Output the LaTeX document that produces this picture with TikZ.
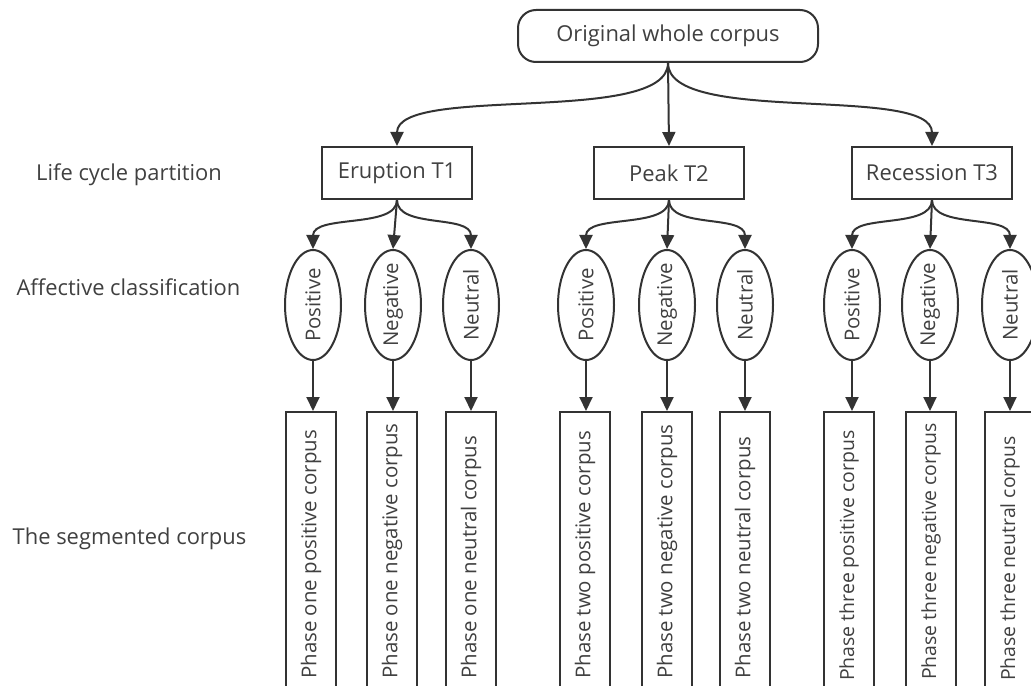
\documentclass[tikz,border=0pt]{standalone}
\usepackage{fontspec}
\setmainfont{Open Sans}
\usetikzlibrary{arrows.meta,shapes.geometric}
\definecolor{ink}{HTML}{333333}
\definecolor{txt}{HTML}{404040}

\begin{document}
\begin{tikzpicture}[x=1bp,y=-1bp,
  every node/.style={font=\fontsize{22}{26}\selectfont, text=txt},
  conn/.style={draw=ink, line width=2bp, -{Triangle[length=14bp,width=13bp]}},
  rootbox/.style={draw=ink, line width=2bp, rounded corners=18bp, minimum width=300bp,
    minimum height=52bp, inner sep=0pt, fill=white},
  phasebox/.style={draw=ink, line width=2bp, minimum width=150bp, minimum height=52bp,
    inner sep=0pt, fill=white},
  sentiment/.style={ellipse, draw=ink, line width=2bp, minimum width=56bp,
    minimum height=110bp, inner sep=0pt, fill=white},
  corpusbox/.style={draw=ink, line width=2bp, minimum width=50bp, minimum height=300bp,
    anchor=north, inner sep=0pt, fill=white},
  vlabel/.style={rotate=90, anchor=west, inner sep=0pt, font=\fontsize{20.5}{24}\selectfont},
  vlabelthree/.style={vlabel, font=\fontsize{19.5}{23}\selectfont},
  eltext/.style={rotate=90, inner sep=0pt, font=\fontsize{20.5}{24}\selectfont},
  rowlabel/.style={inner sep=0pt}
]
\useasboundingbox (0,0) rectangle (1031,686);
\clip (0,0) rectangle (1031,686);

% row captions
\node[rowlabel] (lbl1) at (129,175) {Life cycle partition};
\node[rowlabel] (lbl2) at (128.5,287) {Affective classification};
\node[rowlabel] (lbl3) at (129.5,539) {The segmented corpus};

% root and life cycle phases
\node[rootbox] (root) at (668,36) {Original whole corpus};
\node[phasebox] (p1) at (397,173) {Eruption T1};
\node[phasebox] (p2) at (669,173) {Peak T2};
\node[phasebox, minimum width=160bp] (p3) at (932,173) {Recession T3};

% sentiment ellipses
\node[sentiment] (e11) at (313,305) {};
\node[sentiment] (e12) at (393,305) {};
\node[sentiment] (e13) at (471,305) {};
\node[sentiment] (e21) at (586,305) {};
\node[sentiment] (e22) at (667,305) {};
\node[sentiment] (e23) at (745,305) {};
\node[sentiment] (e31) at (852,305) {};
\node[sentiment] (e32) at (930,305) {};
\node[sentiment] (e33) at (1010,305) {};
\foreach \g in {1,2,3}{
  \node[eltext] (t\g1) at (e\g1) {Positive};
  \node[eltext] (t\g2) at (e\g2) {Negative};
  \node[eltext] (t\g3) at (e\g3) {Neutral};
}

% segmented corpus boxes
\node[corpusbox] (c11) at (311,411) {};
\node[corpusbox] (c12) at (392,411) {};
\node[corpusbox] (c13) at (471,411) {};
\node[corpusbox] (c21) at (585,411) {};
\node[corpusbox] (c22) at (667,411) {};
\node[corpusbox] (c23) at (745,411) {};
\node[corpusbox] (c31) at (849,411) {};
\node[corpusbox] (c32) at (931,411) {};
\node[corpusbox] (c33) at (1010,411) {};

\node[vlabel] (s11) at (311,679) {Phase one positive corpus};
\node[vlabel] (s12) at (392,679) {Phase one negative corpus};
\node[vlabel] (s13) at (471,679) {Phase one neutral corpus};
\node[vlabel] (s21) at (585,679) {Phase two positive corpus};
\node[vlabel] (s22) at (667,679) {Phase two negative corpus};
\node[vlabel] (s23) at (745,679) {Phase two neutral corpus};
\node[vlabelthree] (s31) at (849,681) {Phase three positive corpus};
\node[vlabelthree] (s32) at (931,680) {Phase three negative corpus};
\node[vlabelthree] (s33) at (1010,681) {Phase three neutral corpus};

% root to phases
\draw[conn] (root.south) .. controls +(0,63) and +(0,-62) .. (p1.north);
\draw[conn] (root.south) -- (p2.north);
\draw[conn] (root.south) .. controls +(0,63) and +(0,-62) .. (p3.north);

% phases to sentiments, sentiments to corpus boxes
\foreach \g in {1,2,3}{
  \draw[conn] (p\g.south) .. controls +(0,29) and +(0,-35) .. (e\g1.north);
  \draw[conn] (p\g.south) -- (e\g2.north);
  \draw[conn] (p\g.south) .. controls +(0,29) and +(0,-35) .. (e\g3.north);
  \foreach \k in {1,2,3}{
    \draw[conn] (e\g\k.south) -- (e\g\k.south |- c\g\k.north);
  }
}
\end{tikzpicture}
\end{document}
